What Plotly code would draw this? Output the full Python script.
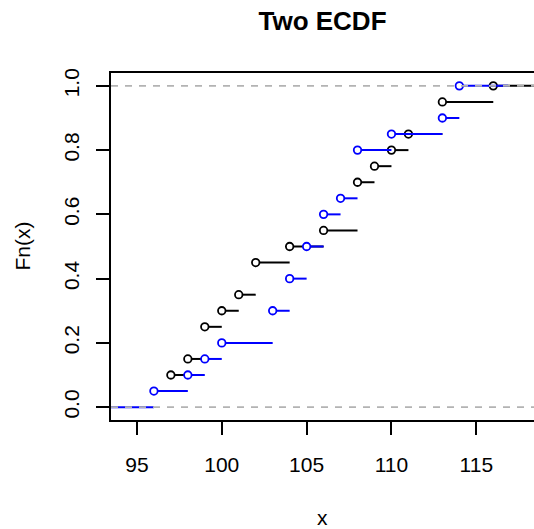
import plotly.graph_objects as go

# Observations of the two samples
x_black = [97, 97, 98, 99, 99, 100, 101, 102, 102, 104,
           106, 108, 108, 108, 109, 110, 111, 113, 113, 116]
x_blue = [96, 98, 99, 100, 103, 103, 104, 104, 105, 105,
          106, 106, 107, 108, 108, 108, 110, 113, 114, 114]

x_ticks = [95, 100, 105, 110, 115]
y_ticks = [0.0, 0.2, 0.4, 0.6, 0.8, 1.0]
x_range = [93.472, 118.40]
y_range = [-0.04, 1.04]

FONT = "Liberation Sans, Arial, sans-serif"


def ecdf(sample):
    knots = sorted(set(sample))
    n = len(sample)
    levels = [sum(v <= k for v in sample) / n for k in knots]
    return knots, levels


def tail_width(knots):
    # extension used by R's plot.stepfun: max(8% of range, median knot gap)
    gaps = sorted(b - a for a, b in zip(knots, knots[1:]))
    m = len(gaps)
    med = gaps[m // 2] if m % 2 else (gaps[m // 2 - 1] + gaps[m // 2]) / 2
    return max(0.08 * (knots[-1] - knots[0]), med)


def step_traces(sample, color, left_tail, right_end):
    knots, levels = ecdf(sample)
    xs, ys = [], []
    if left_tail is not None:
        xs += [left_tail, knots[0], None]
        ys += [0, 0, None]
    for i, (k, lv) in enumerate(zip(knots, levels)):
        end = knots[i + 1] if i + 1 < len(knots) else right_end
        xs += [k, end, None]
        ys += [lv, lv, None]
    seg = go.Scatter(x=xs, y=ys, mode="lines", showlegend=False,
                     line=dict(color=color, width=2), hoverinfo="skip")
    pts = go.Scatter(x=knots, y=levels, mode="markers", showlegend=False,
                     marker=dict(symbol="circle", size=7.5, color="white",
                                 line=dict(color=color, width=1.8)))
    return [seg, pts]


kb, _ = ecdf(x_black)
ku, _ = ecdf(x_blue)
dr_b = tail_width(kb)
dr_u = tail_width(ku)

fig = go.Figure()
for t in step_traces(x_black, "black", None, kb[-1] + 2 * dr_b):
    fig.add_trace(t)
for t in step_traces(x_blue, "#0000FF", ku[0] - 2 * dr_u, ku[-1] + 2 * dr_u):
    fig.add_trace(t)

# reference lines at 0 and 1
for level in (0, 1):
    fig.add_shape(type="line", xref="paper", x0=0, x1=1, yref="y",
                  y0=level, y1=level, layer="above",
                  line=dict(color="#B3B3B3", width=1.6, dash="7px,7px"))

axis_common = dict(showgrid=False, zeroline=False, showline=True,
                   linecolor="black", linewidth=2, ticks="outside",
                   ticklen=13, tickwidth=2, tickcolor="black",
                   tickfont=dict(family=FONT, size=21, color="black"))

fig.update_xaxes(range=x_range, tickvals=x_ticks, mirror=True,
                 ticklabelstandoff=12, **axis_common)
fig.update_yaxes(range=y_range, tickvals=y_ticks, tickformat=".1f",
                 tickangle=-90, ticklabelstandoff=9, **axis_common)

fig.add_annotation(text="x", xref="paper", yref="paper", x=0.5, y=-0.2824,
                   showarrow=False, xanchor="center", yanchor="middle",
                   font=dict(family=FONT, size=21, color="black"))
fig.add_annotation(text="Fn(x)", xref="paper", yref="paper", x=-0.2104, y=0.5,
                   showarrow=False, textangle=-90, xanchor="center",
                   yanchor="middle",
                   font=dict(family=FONT, size=21, color="black"))

fig.update_layout(
    width=534, height=529,
    margin=dict(l=111, r=0, t=73, b=109),
    paper_bgcolor="white", plot_bgcolor="white",
    title=dict(text="<b>Two ECDF</b>", x=0.5, xref="paper",
               y=1 - 21 / 529, yref="container", yanchor="middle",
               xanchor="center",
               font=dict(family=FONT, size=26, color="black")),
)

fig.write_html("out.html")
